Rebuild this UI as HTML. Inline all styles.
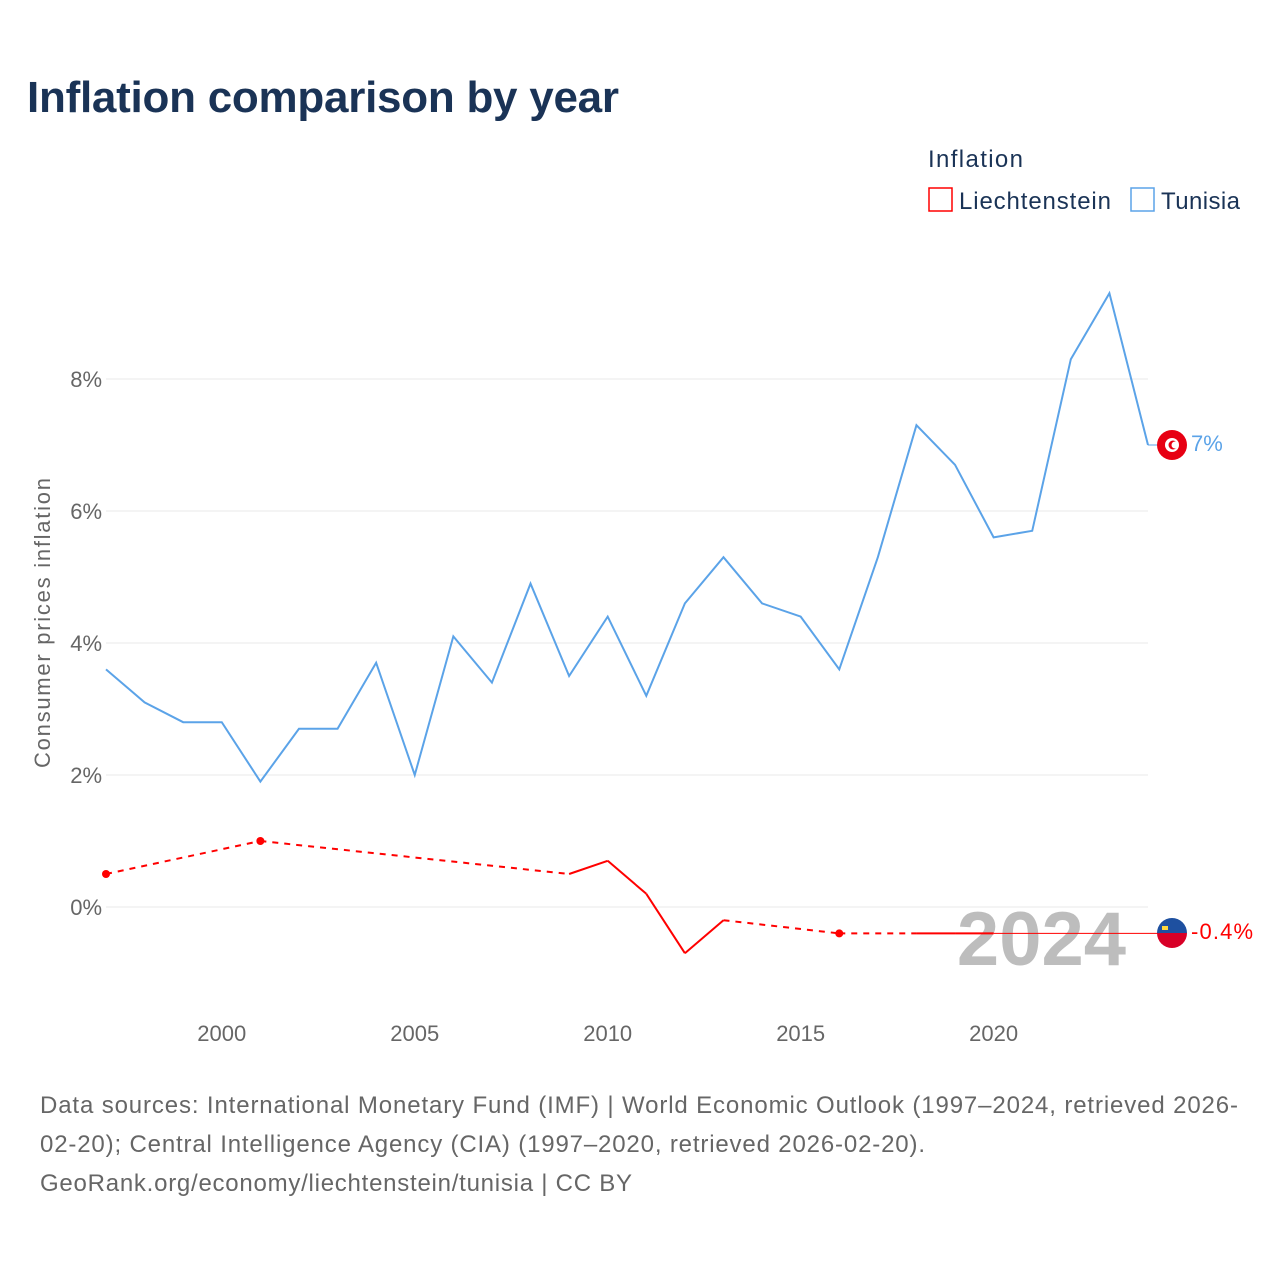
<!DOCTYPE html>
<html><head><meta charset="utf-8"><style>
body{margin:0;background:#fff;font-family:"Liberation Sans",sans-serif}
svg{display:block}
</style></head><body>
<svg width="1280" height="1280" id="c">
<text x="27" y="112" font-size="44" font-weight="bold" fill="#1a3356" textLength="592">Inflation comparison by year</text>
<text x="928" y="167" font-size="24" fill="#1a3356" textLength="95">Inflation</text>
<g><rect x="929" y="188" width="23" height="23" fill="none" stroke="#f00" stroke-width="1.5"/><text x="959" y="209" font-size="24" fill="#1a3356" textLength="152">Liechtenstein</text></g>
<g><rect x="1131" y="188" width="23" height="23" fill="none" stroke="#5ba3e8" stroke-width="1.5"/><text x="1161" y="209" font-size="24" fill="#1a3356" textLength="79">Tunisia</text></g>
<text transform="translate(50,623) rotate(-90)" text-anchor="middle" font-size="22" fill="#666" textLength="290">Consumer prices inflation</text>
<g id="grid"></g><g id="xt"></g>
<text x="1126" y="965" text-anchor="end" font-size="76" font-weight="bold" fill="#bdbdbd">2024</text>
<g id="series"></g>
<g><circle cx="1172" cy="445" r="15" fill="#e70013"/><circle cx="1172" cy="445" r="7" fill="#fff"/><circle cx="1173" cy="445" r="4.5" fill="#e70013"/><circle cx="1175" cy="445" r="3.5" fill="#fff"/></g>
<text x="1191" y="451" font-size="22" fill="#5ba3e8">7%</text>
<g><clipPath id="fc"><circle cx="1172" cy="933" r="15"/></clipPath><g clip-path="url(#fc)"><rect x="1157" y="918" width="30" height="15" fill="#1e50a0"/><rect x="1157" y="933" width="30" height="15" fill="#d80027"/></g><rect x="1162" y="926" width="6" height="4" fill="#ffd83d"/></g>
<text x="1191" y="939" font-size="22" fill="#f00" textLength="62">-0.4%</text>
<g font-size="24" fill="#666"><text x="40" y="1113" textLength="1198">Data sources: International Monetary Fund (IMF) | World Economic Outlook (1997–2024, retrieved 2026-</text><text x="40" y="1152" textLength="885">02-20); Central Intelligence Agency (CIA) (1997–2020, retrieved 2026-02-20).</text><text x="40" y="1191" textLength="592">GeoRank.org/economy/liechtenstein/tunisia | CC BY</text></g>
</svg>
<script>
const yTicks=[0,2,4,6,8];
const xTicks=[2000,2005,2010,2015,2020];
const tunYears=[1997,1998,1999,2000,2001,2002,2003,2004,2005,2006,2007,2008,2009,2010,2011,2012,2013,2014,2015,2016,2017,2018,2019,2020,2021,2022,2023,2024];
const tunVals=[3.6,3.1,2.8,2.8,1.9,2.7,2.7,3.7,2.0,4.1,3.4,4.9,3.5,4.4,3.2,4.6,5.3,4.6,4.4,3.6,5.3,7.3,6.7,5.6,5.7,8.3,9.3,7.0];
const liYears=[1997,2001,2009,2010,2011,2012,2013,2016,2018,2019,2020];
const liVals=[0.5,1.0,0.5,0.7,0.2,-0.7,-0.2,-0.4,-0.4,-0.4,-0.4];
const X=y=>106+(y-1997)*(1148-106)/27;
const Y=v=>907-v*66;
const NS="http://www.w3.org/2000/svg";
function mk(t,a,p){const e=document.createElementNS(NS,t);for(const k in a)e.setAttribute(k,a[k]);p.appendChild(e);return e;}
const g=document.getElementById('grid'),xt=document.getElementById('xt'),s=document.getElementById('series');
yTicks.forEach(v=>{const l=mk('line',{x1:106,x2:1148,y1:Y(v),y2:Y(v),stroke:'#e8e8e8'},g);


const t=mk('text',{x:102,y:Y(v)+8,'text-anchor':'end','font-size':22,fill:'#666'},g);t.textContent=v+'%';

});
xTicks.forEach(v=>{const t=mk('text',{x:X(v),y:1041,'text-anchor':'middle','font-size':22,fill:'#666'},xt);t.textContent=v;

});
const tp=mk('polyline',{points:tunYears.map((y,i)=>X(y)+','+Y(tunVals[i])).join(' '),fill:'none',stroke:'#5ba3e8','stroke-width':2},s);


const tc=mk('line',{x1:X(2024),y1:Y(7),x2:1160,y2:Y(7),stroke:'#5ba3e8','stroke-width':1},s);


for(let i=0;i<liYears.length-1;i++){const gap=liYears[i+1]-liYears[i]>1;
const l=mk('line',{x1:X(liYears[i]),y1:Y(liVals[i]),x2:X(liYears[i+1]),y2:Y(liVals[i+1]),stroke:'#f00','stroke-width':2,'stroke-dasharray':gap?'6,6':'none'},s);

}
liYears.forEach((y,i)=>{const iso=(i==0||liYears[i-1]!=y-1)&&(i==liYears.length-1||liYears[i+1]!=y+1);
if(iso){const c=mk('circle',{cx:X(y),cy:Y(liVals[i]),r:4,fill:'#f00'},s);

}});
const last=liYears.length-1;
const lc=mk('line',{x1:X(liYears[last]),y1:Y(liVals[last]),x2:1160,y2:Y(liVals[last]),stroke:'#f00','stroke-width':1},s);


</script>
</body></html>
